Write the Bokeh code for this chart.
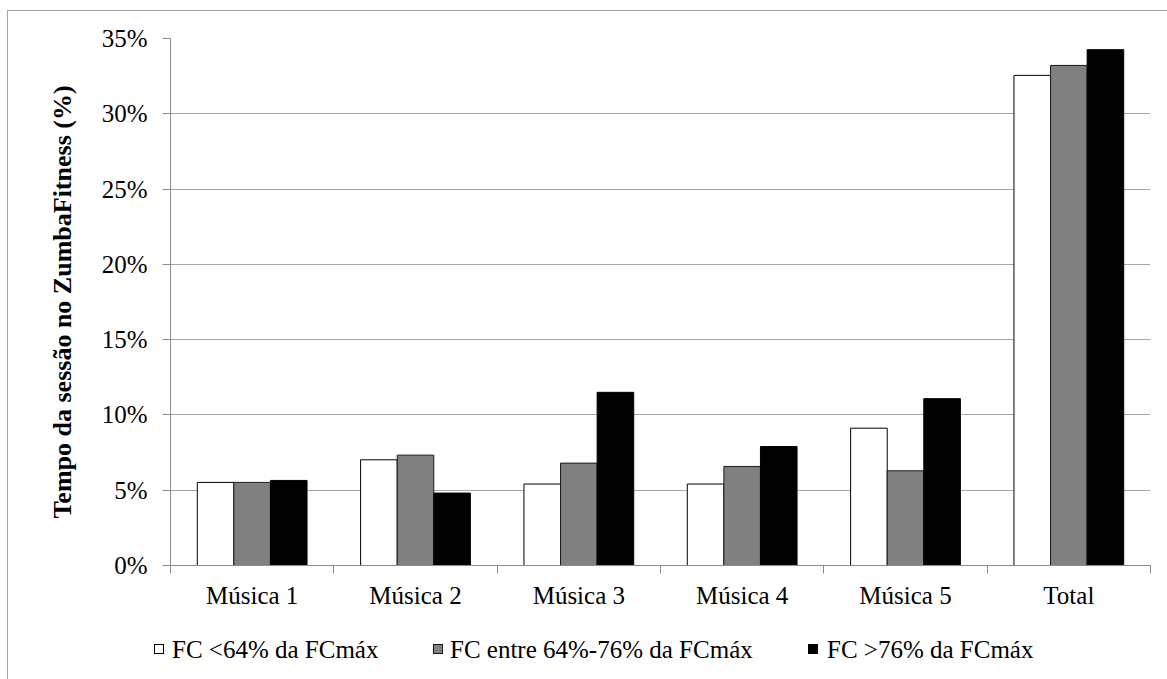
from bokeh.plotting import figure
from bokeh.layouts import column
from bokeh.models import (ColumnDataSource, FixedTicker, PrintfTickFormatter,
                          Range1d, Div)
from bokeh.transform import dodge
from bokeh.embed import file_html
from bokeh.resources import INLINE

# Session time spent in each heart-rate zone, per song and in total (%)
categories = ["Música 1", "Música 2", "Música 3", "Música 4", "Música 5", "Total"]
fc_baixa = [5.52, 7.02, 5.41, 5.41, 9.12, 32.55]    # FC <64% da FCmáx
fc_media = [5.52, 7.33, 6.80, 6.58, 6.29, 33.21]    # FC entre 64%-76% da FCmáx
fc_alta = [5.65, 4.81, 11.50, 7.90, 11.08, 34.26]   # FC >76% da FCmáx
series_labels = ["FC <64% da FCmáx", "FC entre 64%-76% da FCmáx", "FC >76% da FCmáx"]
y_ticks = [0, 5, 10, 15, 20, 25, 30, 35]

centers = [i + 0.5 for i in range(len(categories))]
boundaries = list(range(len(categories) + 1))

source = ColumnDataSource(dict(x=centers, baixa=fc_baixa, media=fc_media, alta=fc_alta))

FONT = "Liberation Serif"
AXIS_GRAY = "#8c8c8c"
GRID_GRAY = "#a6a6a6"
bar_styles = [dict(fill_color="white", line_color="black", line_width=1),
              dict(fill_color="#808080", line_color="#1a1a1a", line_width=1),
              dict(fill_color="black", line_color="black", line_width=1)]

p = figure(width=1159, height=600,
           x_range=Range1d(0, len(categories)), y_range=Range1d(0, 35),
           output_backend="svg", toolbar_location=None,
           min_border_left=162, min_border_right=17,
           min_border_top=27, min_border_bottom=45)
p.outline_line_color = None
p.background_fill_color = "white"
p.border_fill_color = "white"

bw = 0.224
p.vbar(x=dodge("x", -bw), top="baixa", width=bw, source=source, **bar_styles[0])
p.vbar(x="x", top="media", width=bw, source=source, **bar_styles[1])
p.vbar(x=dodge("x", bw), top="alta", width=bw, source=source, **bar_styles[2])

# x axis: labels centred on each category, tick marks at category boundaries
xa = p.xaxis[0]
xa.ticker = FixedTicker(ticks=centers, minor_ticks=boundaries)
xa.major_label_overrides = {c: lab for c, lab in zip(centers, categories)}
xa.major_tick_out = 0
xa.major_tick_in = 0
xa.minor_tick_out = 8
xa.minor_tick_in = 0
xa.minor_tick_line_color = AXIS_GRAY
xa.axis_line_color = AXIS_GRAY
xa.major_label_standoff = 8
xa.major_label_text_font = FONT
xa.major_label_text_font_size = "25px"
xa.major_label_text_color = "black"

ya = p.yaxis[0]
ya.ticker = FixedTicker(ticks=y_ticks)
ya.formatter = PrintfTickFormatter(format="%d%%")
ya.major_tick_out = 8
ya.major_tick_in = 0
ya.minor_tick_out = 0
ya.minor_tick_in = 0
ya.major_tick_line_color = AXIS_GRAY
ya.axis_line_color = AXIS_GRAY
ya.major_label_standoff = 15
ya.major_label_text_font = FONT
ya.major_label_text_font_size = "25px"
ya.major_label_text_color = "black"
ya.axis_label = "Tempo da sessão no ZumbaFitness (%)"
ya.axis_label_text_font = FONT
ya.axis_label_text_font_style = "bold"
ya.axis_label_text_font_size = "26px"
ya.axis_label_text_color = "black"
ya.axis_label_standoff = 22

p.xgrid.visible = False
p.ygrid.grid_line_color = GRID_GRAY
p.ygrid.grid_line_width = 1

# Legend strip below the chart: one swatch + label per series
swatch_left = [146, 425, 800]
label_left = [164, 442, 819]
parts = []
for st, sx, lx, lab in zip(bar_styles, swatch_left, label_left, series_labels):
    parts.append(
        f'<span style="position:absolute;left:{sx}px;top:33px;width:10px;height:10px;'
        f'border:1px solid {st["line_color"]};background:{st["fill_color"]};"></span>'
    )
    parts.append(
        f'<span style="position:absolute;left:{lx}px;top:24px;line-height:29px;'
        f'white-space:nowrap;">{lab.replace("<", "&lt;").replace(">", "&gt;")}</span>'
    )
legend_html = (f'<div style="position:relative;width:1159px;height:68px;'
               f"font-family:'{FONT}';font-size:25px;color:black;\">"
               + "".join(parts) + "</div>")
legend_div = Div(text=legend_html, width=1159, height=68, margin=0)

layout = column(p, legend_div, spacing=0, margin=(10, 0, 0, 7),
                styles={"border-left": f"1px solid {GRID_GRAY}",
                        "border-top": f"1px solid {GRID_GRAY}"})

open("out.html", "w").write(file_html(layout, INLINE))
